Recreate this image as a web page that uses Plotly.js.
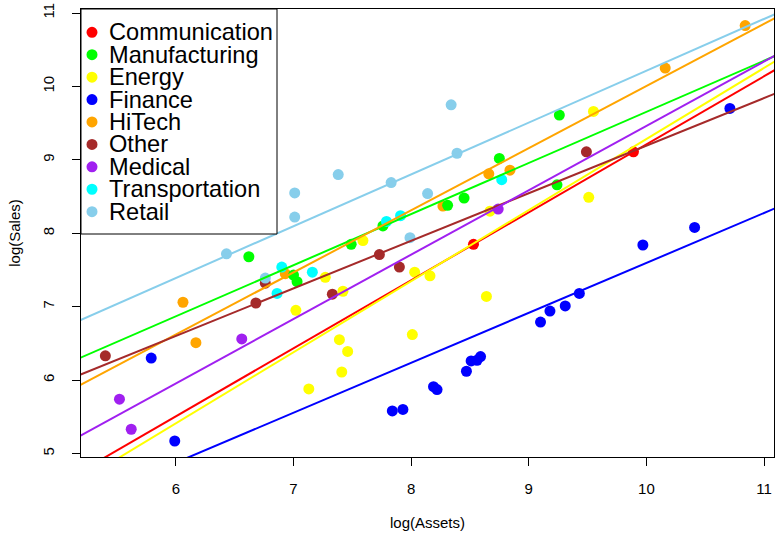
<!DOCTYPE html>
<html><head><meta charset="utf-8">
<script src="https://cdn.plot.ly/plotly-3.0.1.min.js"></script>
<style>html,body{margin:0;padding:0;background:#fff}</style>
</head><body><div id="chart" style="width:776px;height:535px"></div>
<script>
const sectors = ["Communication","Manufacturing","Energy","Finance","HiTech","Other","Medical","Transportation","Retail"];
const sectorColors = ["#FF0000","#00FF00","#FFFF00","#0000FF","#FFA500","#A52A2A","#A020F0","#00FFFF","#87CEEB"];
// sectors that get a fitted line in the reference (Transportation has none)
const sectorHasLine = [true, true, true, true, true, true, true, false, true];

const communicationX = [8.53, 9.89];
const communicationY = [7.85, 9.11];
const manufacturingX = [6.62, 7.00, 7.03, 7.49, 7.76, 8.31, 8.45, 8.75, 9.24, 9.26];
const manufacturingY = [7.68, 7.43, 7.34, 7.85, 8.10, 8.38, 8.48, 9.02, 8.66, 9.61];
const energyX = [9.55, 9.51, 8.67, 8.64, 8.03, 8.16, 8.01, 7.59, 7.27, 7.42, 7.02, 7.39, 7.46, 7.41, 7.13];
const energyY = [9.66, 8.49, 8.30, 7.14, 7.47, 7.42, 6.62, 7.90, 7.40, 7.21, 6.95, 6.55, 6.39, 6.11, 5.88];
const financeX = [10.71, 10.41, 9.97, 9.43, 9.31, 9.18, 9.10, 8.59, 8.56, 8.51, 8.47, 8.19, 8.22, 7.84, 7.93, 5.79, 5.99];
const financeY = [9.70, 8.08, 7.84, 7.18, 7.01, 6.94, 6.79, 6.32, 6.27, 6.26, 6.12, 5.91, 5.87, 5.58, 5.60, 6.30, 5.17];
const hitechX = [10.84, 10.16, 8.84, 8.66, 8.27, 6.93, 6.06, 6.17];
const hitechY = [10.83, 10.25, 8.86, 8.81, 8.37, 7.45, 7.06, 6.51];
const otherX = [5.40, 6.68, 6.76, 7.33, 7.73, 7.90, 9.49];
const otherY = [6.33, 7.05, 7.32, 7.17, 7.71, 7.54, 9.11];
const medicalX = [5.52, 5.62, 6.56, 8.74];
const medicalY = [5.74, 5.33, 6.56, 8.33];
const transportationX = [6.90, 6.86, 7.16, 7.79, 7.91, 8.77];
const transportationY = [7.54, 7.18, 7.47, 8.16, 8.24, 8.73];
const retailX = [6.43, 6.76, 7.01, 7.01, 7.38, 7.83, 7.99, 8.14, 8.34, 8.39];
const retailY = [7.72, 7.39, 8.55, 8.22, 8.80, 8.69, 7.94, 8.54, 9.75, 9.09];

const xTicks = [6, 7, 8, 9, 10, 11];
const yTicks = [5, 6, 7, 8, 9, 10, 11];

const seriesX = [communicationX, manufacturingX, energyX, financeX, hitechX, otherX, medicalX, transportationX, retailX];
const seriesY = [communicationY, manufacturingY, energyY, financeY, hitechY, otherY, medicalY, transportationY, retailY];

// drawing order of the point layers (back to front)
const pointOrder = [4, 5, 2, 3, 6, 0, 1, 7, 8];

const X_RANGE = [5.193, 11.085];
const Y_RANGE = [4.952, 11.055];
const FONT = '"Liberation Sans", Arial, Helvetica, sans-serif';

function fit(xs, ys) {
  const n = xs.length;
  const mx = xs.reduce((a, b) => a + b, 0) / n;
  const my = ys.reduce((a, b) => a + b, 0) / n;
  let sxy = 0, sxx = 0;
  for (let i = 0; i < n; i++) { sxy += (xs[i] - mx) * (ys[i] - my); sxx += (xs[i] - mx) ** 2; }
  const b = sxy / sxx;
  return { a: my - b * mx, b: b };
}

const traces = [];
pointOrder.forEach(k => {
  traces.push({
    type: 'scatter', mode: 'markers', x: seriesX[k], y: seriesY[k], name: sectors[k],
    marker: { color: sectorColors[k], size: 11, line: { width: 0 } },
    showlegend: false, hoverinfo: 'skip'
  });
});
sectors.forEach((s, k) => {
  if (!sectorHasLine[k]) return;
  const f = fit(seriesX[k], seriesY[k]);
  const xe = [X_RANGE[0] - 1, X_RANGE[1] + 1];
  traces.push({
    type: 'scatter', mode: 'lines', x: xe, y: xe.map(v => f.a + f.b * v),
    line: { color: sectorColors[k], width: 2 }, showlegend: false, hoverinfo: 'skip'
  });
});

// manual legend (top-left box)
const plotH = 535 - 9 - 78, plotW = 776 - 81 - 2;
const shapes = [{
  type: 'rect', xref: 'paper', yref: 'paper', x0: 0, x1: (277 - 81) / plotW, y0: 1 - (234 - 9) / plotH, y1: 1,
  line: { color: '#000', width: 1 }, fillcolor: '#fff', layer: 'above'
}];
const annotations = [];
sectors.forEach((s, i) => {
  const yc = 1 - (32.3 + 22.42 * i - 9) / plotH;
  shapes.push({
    type: 'circle', xref: 'paper', yref: 'paper', xsizemode: 'pixel', ysizemode: 'pixel',
    xanchor: (92 - 81) / plotW, yanchor: yc, x0: -5.5, x1: 5.5, y0: -5.5, y1: 5.5,
    fillcolor: sectorColors[i], line: { width: 0 }, layer: 'above'
  });
  annotations.push({
    xref: 'paper', yref: 'paper', x: (108 - 81) / plotW, y: yc, xanchor: 'left', yanchor: 'middle',
    text: s, showarrow: false, borderpad: 0, font: { family: FONT, size: 23.6, color: '#000' }
  });
});

const axisCommon = {
  showgrid: false, zeroline: false, showline: true, mirror: true, linecolor: '#000', linewidth: 1,
  ticks: 'outside', ticklen: 8, tickwidth: 1, tickcolor: '#000',
  tickfont: { family: FONT, size: 15, color: '#000' }, automargin: false
};

const layout = {
  width: 776, height: 535,
  margin: { l: 81, r: 2, t: 9, b: 78 },
  paper_bgcolor: '#fff', plot_bgcolor: '#fff',
  font: { family: FONT, color: '#000' },
  showlegend: false,
  xaxis: Object.assign({}, axisCommon, {
    range: X_RANGE, tickvals: xTicks, ticktext: xTicks.map(String), ticklabelstandoff: 10,
    title: { text: 'log(Assets)', font: { family: FONT, size: 15, color: '#000' }, standoff: 21 }
  }),
  yaxis: Object.assign({}, axisCommon, {
    range: Y_RANGE, tickvals: yTicks, ticktext: yTicks.map(String), tickangle: -90, ticklabelstandoff: 12,
    title: { text: 'log(Sales)', font: { family: FONT, size: 15, color: '#000' }, standoff: 15 }
  }),
  shapes: shapes, annotations: annotations
};

Plotly.newPlot('chart', traces, layout, { displayModeBar: false, staticPlot: true });
</script>
</body></html>
